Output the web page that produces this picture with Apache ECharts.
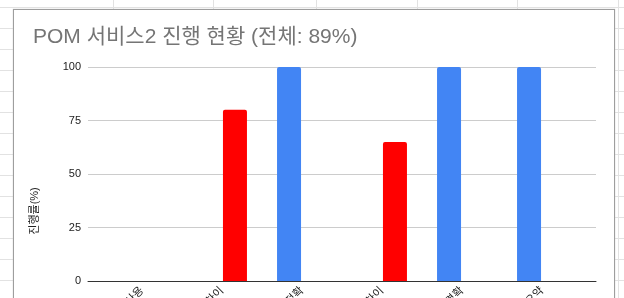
<!DOCTYPE html>
<html>
<head>
<meta charset="utf-8">
<script src="https://cdn.jsdelivr.net/npm/echarts@6/dist/echarts.min.js"></script>
<style>
  html, body { margin:0; padding:0; width:624px; height:298px; overflow:hidden; background:#fff; }
  #sheet { position:absolute; left:0; top:0; width:624px; height:298px;
    background-image: repeating-linear-gradient(to bottom, transparent 0px, transparent 7px, #e2e2e2 7px, #e2e2e2 8px, transparent 8px, transparent 21px);
  }
  .col { position:absolute; top:0; width:1px; height:298px; background:#e2e2e2; }
  #box { position:absolute; left:13px; top:9px; width:600px; height:310px; background:#fff; border:1px solid #9e9e9e; box-shadow: 0 0 1px #bbb; }
  #chart { position:absolute; left:0; top:0; width:624px; height:298px; }
</style>
</head>
<body>
<div id="sheet"></div>
<div class="col" style="left:113px"></div>
<div class="col" style="left:213px"></div>
<div class="col" style="left:316px"></div>
<div class="col" style="left:417px"></div>
<div class="col" style="left:517px"></div>
<div class="col" style="left:618px"></div>
<div id="box"></div>
<div id="chart"></div>
<script>
const titleText = 'POM 서비스2 진행 현황 (전체: 89%)';
const yAxisName = '진행률(%)';
const categories = ['서비스 사용', '데이터 차이', '결과 정확', '설정 차이', '권한 명확', '결과 요약'];
const blueValues = [0, null, 100, null, 100, 100];
const redValues  = [null, 80, null, 65, null, null];
const yTicks = [0, 25, 50, 75, 100];

const FONT = 'Arial, "Liberation Sans", "Noto Sans CJK KR", sans-serif';
const chart = echarts.init(document.getElementById('chart'), null, {renderer:'canvas'});
chart.setOption({
  backgroundColor: 'transparent',
  animation: false,
  title: {
    text: titleText, left: 28, top: 22,
    textStyle: { fontFamily: FONT, fontSize: 21, fontWeight: 'normal', color: '#757575' }
  },
  graphic: [{
    type: 'text', x: 35, y: 211, rotation: Math.PI / 2,
    style: { text: yAxisName, fontFamily: FONT, fontSize: 11, fill: '#222', align: 'center', verticalAlign: 'middle' }
  }],
  grid: [
    { left: 88, right: 28, top: 67, bottom: 17, containLabel: false, outerBoundsMode: 'none' },
    { left: 102, right: 42, top: 67, bottom: 17, containLabel: false, outerBoundsMode: 'none' }
  ],
  xAxis: [
    { gridIndex: 0, type: 'category', data: [''], axisLine: { show: true, lineStyle: { color: '#333', width: 1 } },
      axisTick: { show: false }, axisLabel: { show: false }, splitLine: { show: false } },
    { gridIndex: 1, type: 'category', data: categories, axisLine: { show: false }, axisTick: { show: false },
      axisLabel: { rotate: 45, margin: 8, fontSize: 11, color: '#222', fontFamily: FONT, interval: 0 } }
  ],
  yAxis: [
    { gridIndex: 0, type: 'value', min: yTicks[0], max: yTicks[yTicks.length - 1], interval: 25,
      axisLine: { show: false }, axisTick: { show: false },
      axisLabel: { fontSize: 11, color: '#222', margin: 7, fontFamily: FONT },
      splitLine: { lineStyle: { color: '#cccccc', width: 1 } } },
    { gridIndex: 1, type: 'value', min: yTicks[0], max: yTicks[yTicks.length - 1], interval: 25, show: false,
      splitLine: { show: false } }
  ],
  series: [
    { type: 'bar', xAxisIndex: 1, yAxisIndex: 1, data: blueValues, barWidth: 24, barGap: '8%',
      itemStyle: { color: '#4285f4', borderRadius: [2, 2, 0, 0] } },
    { type: 'bar', xAxisIndex: 1, yAxisIndex: 1, data: redValues, barWidth: 24, barGap: '8%',
      itemStyle: { color: '#ff0000', borderRadius: [2, 2, 0, 0] } }
  ]
});
</script>
</body>
</html>
